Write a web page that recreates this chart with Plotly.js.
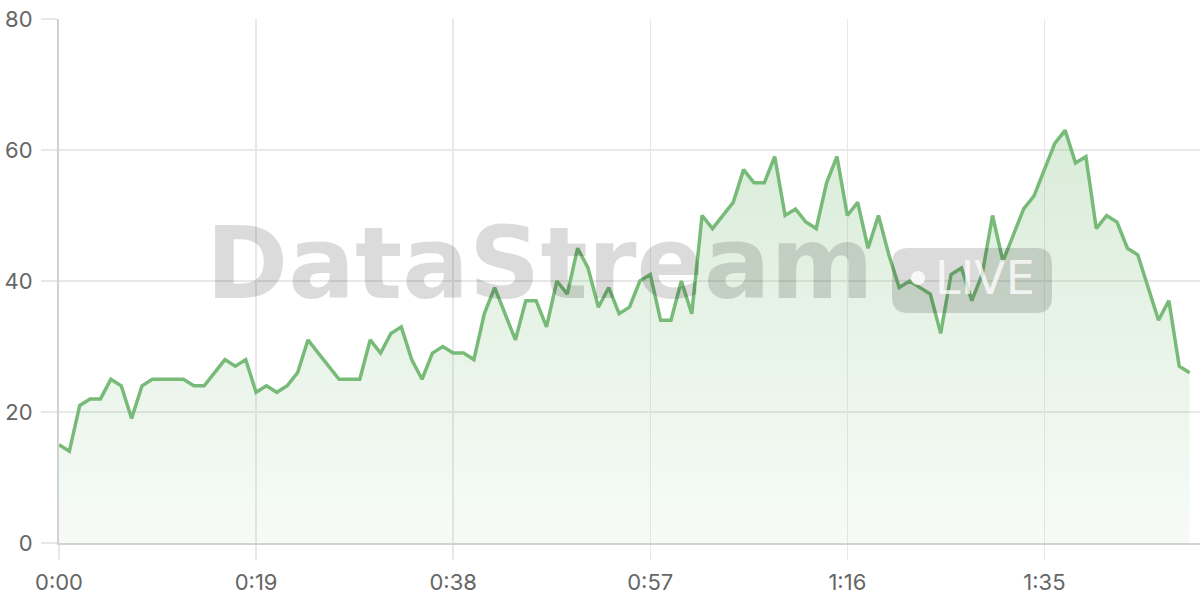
<!DOCTYPE html>
<html>
<head>
<meta charset="utf-8">
<script src="https://cdn.plot.ly/plotly-3.0.1.min.js"></script>
<style>
  html, body { margin: 0; padding: 0; background: #ffffff; }
  #chart { width: 1200px; height: 600px; }
</style>
</head>
<body>
<div id="chart"></div>
<script>
// ---- data ----
const startSec = 0;
const stepSec = 1;
const values = [
  15, 14, 21, 22, 22, 25, 24, 19, 24, 25,
  25, 25, 25, 24, 24, 26, 28, 27, 28, 23,
  24, 23, 24, 26, 31, 29, 27, 25, 25, 25,
  31, 29, 32, 33, 28, 25, 29, 30, 29, 29,
  28, 35, 39, 35, 31, 37, 37, 33, 40, 38,
  45, 42, 36, 39, 35, 36, 40, 41, 34, 34,
  40, 35, 50, 48, 50, 52, 57, 55, 55, 59,
  50, 51, 49, 48, 55, 59, 50, 52, 45, 50,
  44, 39, 40, 39, 38, 32, 41, 42, 37, 41,
  50, 43, 47, 51, 53, 57, 61, 63, 58, 59,
  48, 50, 49, 45, 44, 39, 34, 37, 27, 26
];
const xTickVals = [0, 19, 38, 57, 76, 95];
const xTickText = ['0:00', '0:19', '0:38', '0:57', '1:16', '1:35'];
const yTickVals = [0, 20, 40, 60, 80];
const watermarkText = 'DataStream';
const badgeText = 'LIVE';

const times = values.map((v, i) => startSec + i * stepSec);

// ---- geometry helpers for the watermark (pixel -> paper) ----
const M = { l: 59, r: 0, t: 19, b: 57 };
const W = 1200, H = 600;
const pw = W - M.l - M.r, ph = H - M.t - M.b;
const px = x => (x - M.l) / pw;
const py = y => (H - M.b - y) / ph;

function roundRectPath(x0, y0, x1, y1, r) {
  const rx = r / pw, ry = r / ph;
  const a = px(x0), b = px(x1), top = py(y0), bot = py(y1);
  return `M ${a + rx},${top} L ${b - rx},${top} Q ${b},${top} ${b},${top - ry} ` +
         `L ${b},${bot + ry} Q ${b},${bot} ${b - rx},${bot} ` +
         `L ${a + rx},${bot} Q ${a},${bot} ${a},${bot + ry} ` +
         `L ${a},${top - ry} Q ${a},${top} ${a + rx},${top} Z`;
}

const lineColor = '#78bb78';
const gridColor = '#e8e8e8';
const axisColor = '#d2d2d2';
const tickFont = { family: 'Inter, "DejaVu Sans", sans-serif', size: 22, color: '#666666' };

const trace = {
  type: 'scatter',
  mode: 'lines',
  x: times,
  y: values,
  line: { color: lineColor, width: 3.5, shape: 'linear' },
  fill: 'tozeroy',
  fillgradient: {
    type: 'vertical',
    start: 0,
    stop: 63,
    colorscale: [
      [0, 'rgba(120,187,120,0.06)'],
      [1, 'rgba(120,187,120,0.28)']
    ]
  },
  hoverinfo: 'skip'
};

const layout = {
  width: W,
  height: H,
  margin: M,
  paper_bgcolor: '#ffffff',
  plot_bgcolor: '#ffffff',
  showlegend: false,
  xaxis: {
    range: [0, 110],
    tickmode: 'array',
    tickvals: xTickVals,
    ticktext: xTickText,
    showgrid: true,
    gridcolor: gridColor,
    gridwidth: 1.5,
    zeroline: false,
    showline: true,
    linecolor: axisColor,
    linewidth: 2,
    ticks: 'outside',
    ticklen: 15,
    tickwidth: 1.5,
    tickcolor: gridColor,
    tickfont: tickFont,
    ticklabelstandoff: 4,
    fixedrange: true
  },
  yaxis: {
    range: [0, 80],
    tickmode: 'array',
    tickvals: yTickVals,
    showgrid: true,
    gridcolor: gridColor,
    gridwidth: 1.5,
    zeroline: false,
    showline: true,
    linecolor: axisColor,
    linewidth: 2,
    ticks: 'outside',
    ticklen: 16,
    tickwidth: 1.5,
    tickcolor: gridColor,
    tickfont: tickFont,
    ticklabelstandoff: 4,
    fixedrange: true
  },
  shapes: [
    {
      type: 'path',
      xref: 'paper', yref: 'paper',
      path: roundRectPath(892, 248, 1052, 313, 16),
      fillcolor: 'rgba(0,0,0,0.14)',
      line: { width: 0 },
      layer: 'above'
    },
    {
      type: 'circle',
      xref: 'paper', yref: 'paper',
      x0: px(911), x1: px(925), y0: py(285), y1: py(271),
      fillcolor: 'rgba(255,255,255,0.8)',
      line: { width: 0 },
      layer: 'above'
    }
  ],
  annotations: [
    {
      xref: 'paper', yref: 'paper',
      x: px(540), y: py(263),
      xanchor: 'center', yanchor: 'middle',
      text: watermarkText,
      showarrow: false,
      font: { family: '"DejaVu Sans", sans-serif', size: 99, weight: 'bold', color: 'rgba(0,0,0,0.14)' }
    },
    {
      xref: 'paper', yref: 'paper',
      x: px(985), y: py(278),
      xanchor: 'center', yanchor: 'middle',
      text: badgeText,
      showarrow: false,
      font: { family: '"DejaVu Sans", sans-serif', size: 46, color: 'rgba(255,255,255,0.75)' }
    }
  ]
};

Plotly.newPlot('chart', [trace], layout, { staticPlot: true, displayModeBar: false });
</script>
</body>
</html>
